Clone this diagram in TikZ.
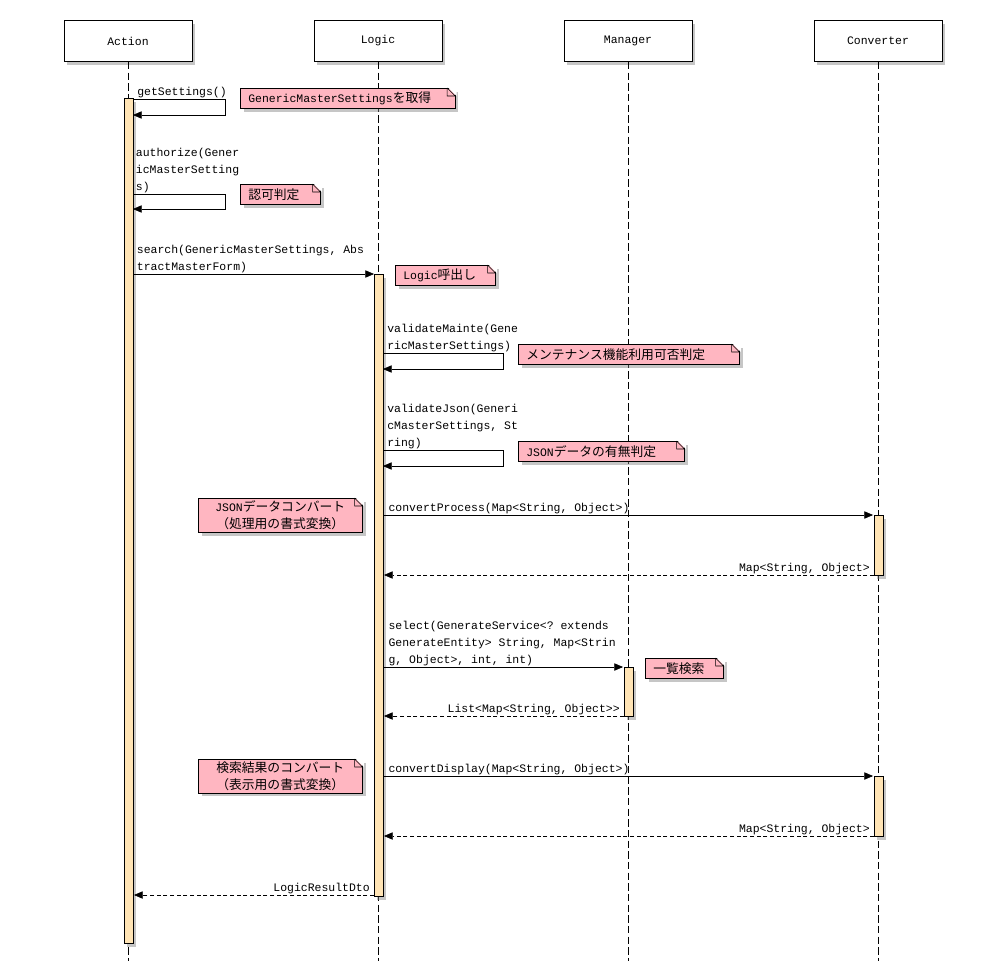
\documentclass[tikz,border=0pt]{standalone}
\usepackage{fontspec}
\setmonofont{Liberation Mono}
\newfontfamily\jpfont{Noto Sans CJK JP}
\usetikzlibrary{positioning,arrows.meta,shadows}

\definecolor{barfill}{HTML}{FFE4B5}
\definecolor{memofill}{HTML}{FFB6C1}

\newcommand{\msgfont}{\ttfamily\fontsize{8.6}{12.4}\selectfont}
\newcommand{\ja}[1]{{\jpfont\fontsize{9.6}{12.4}\selectfont #1}}
% folded corner of a note
\newcommand{\dogear}[1]{%
  \fill[white] ([xshift=-6pt,yshift=1pt]#1.north east) -- ([xshift=1pt,yshift=1pt]#1.north east)
    -- ([xshift=1pt,yshift=-6pt]#1.north east) -- cycle;
  \draw ([xshift=-6pt]#1.north east) -- ([yshift=-6pt]#1.north east)
    ([xshift=-6pt]#1.north east) |- ([yshift=-6pt]#1.north east);
}

\tikzset{
  shade/.style={drop shadow={shadow xshift=2.5pt,shadow yshift=-2.5pt,opacity=.45}},
  actor/.style={draw,fill=white,minimum width=96pt,minimum height=31pt,font=\msgfont,shade},
  life/.style={draw,dash pattern=on 5.5pt off 2.5pt},
  bar/.style={draw,fill=barfill,minimum width=6.75pt,inner sep=0pt,anchor=north,shade},
  msg/.style={draw,->},
  ret/.style={draw,->,dash pattern=on 3pt off 2pt},
  lbl/.style={font=\msgfont,inner sep=1pt,align=left},
  memo/.style={draw,fill=memofill,font=\msgfont,inner xsep=6pt,inner ysep=2pt,
    minimum height=15pt,anchor=north west,shade}
}

\begin{document}
\begin{tikzpicture}[x=0.75pt,y=-0.75pt,>={Triangle[length=6.5pt,width=5.5pt]}]
  \useasboundingbox (0,0) rectangle (1006,961);

  % participants
  \node[actor] (action) at (128,41) {Action};
  \node[actor] (logic) at (378,41) {Logic};
  \node[actor] (manager) at (628,41) {Manager};
  \node[actor] (converter) at (878,41) {Converter};

  % lifelines
  \coordinate (actionEnd) at (128,961);
  \coordinate (logicEnd) at (378,961);
  \coordinate (managerEnd) at (628,961);
  \coordinate (converterEnd) at (878,961);
  \draw[life] (action.south) -- (actionEnd);
  \draw[life] (logic.south) -- (logicEnd);
  \draw[life] (manager.south) -- (managerEnd);
  \draw[life] (converter.south) -- (converterEnd);

  % activations
  \node[bar,minimum height=633.75pt] (actionBar) at (128.5,98) {};
  \node[bar,minimum height=466.5pt] (logicBar) at (378.5,274) {};
  \node[bar,minimum height=45pt] (convBarA) at (878.5,515) {};
  \node[bar,minimum height=36.75pt] (managerBar) at (628.5,667) {};
  \node[bar,minimum height=45pt] (convBarB) at (878.5,776) {};

  % getSettings
  \coordinate (getA) at (133,99);
  \coordinate (getB) at (133,115);
  \node[lbl,anchor=south west,xshift=2pt] (getLbl) at (getA) {getSettings()};
  \draw[msg] (getA) -- ++(92,0) |- (getB);

  % authorize
  \coordinate (authA) at (133,194);
  \coordinate (authB) at (133,209);
  \node[lbl,anchor=south west,xshift=1pt] (authLbl) at (authA)
    {authorize(Gener\\icMasterSetting\\s)};
  \draw[msg] (authA) -- ++(92,0) |- (authB);

  % search
  \coordinate (searchA) at (134,274);
  \coordinate (searchB) at (374,274);
  \node[lbl,anchor=south west,xshift=1pt] (searchLbl) at (searchA)
    {search(GenericMasterSettings, Abs\\tractMasterForm)};
  \draw[msg] (searchA) -- (searchB);

  % validateMainte
  \coordinate (mainteA) at (383,353);
  \coordinate (mainteB) at (383,369);
  \node[lbl,anchor=south west,xshift=2pt] (mainteLbl) at (mainteA)
    {validateMainte(Gene\\ricMasterSettings)};
  \draw[msg] (mainteA) -- ++(120,0) |- (mainteB);

  % validateJson
  \coordinate (jsonA) at (383,450);
  \coordinate (jsonB) at (383,466);
  \node[lbl,anchor=south west,xshift=2pt] (jsonLbl) at (jsonA)
    {validateJson(Generi\\cMasterSettings, St\\ring)};
  \draw[msg] (jsonA) -- ++(120,0) |- (jsonB);

  % convertProcess
  \coordinate (procA) at (383,515);
  \coordinate (procB) at (873,515);
  \coordinate (procC) at (874,575);
  \coordinate (procD) at (384,575);
  \node[lbl,anchor=south west,xshift=3pt] (procLbl) at (procA)
    {convertProcess(Map<String, Object>)};
  \draw[msg] (procA) -- (procB);
  \node[lbl,anchor=south east,xshift=-2pt] (procRet) at (procC) {Map<String, Object>};
  \draw[ret] (procC) -- (procD);

  % select
  \coordinate (selA) at (383,667);
  \coordinate (selB) at (623,667);
  \coordinate (selC) at (624,716);
  \coordinate (selD) at (384,716);
  \node[lbl,anchor=south west,xshift=3pt] (selLbl) at (selA)
    {select(GenerateService<? extends\\GenerateEntity> String, Map<Strin\\g, Object>, int, int)};
  \draw[msg] (selA) -- (selB);
  \node[lbl,anchor=south east,xshift=-2pt] (selRet) at (selC) {List<Map<String, Object>>};
  \draw[ret] (selC) -- (selD);

  % convertDisplay
  \coordinate (dispA) at (383,776);
  \coordinate (dispB) at (873,776);
  \coordinate (dispC) at (874,836);
  \coordinate (dispD) at (384,836);
  \node[lbl,anchor=south west,xshift=3pt] (dispLbl) at (dispA)
    {convertDisplay(Map<String, Object>)};
  \draw[msg] (dispA) -- (dispB);
  \node[lbl,anchor=south east,xshift=-2pt] (dispRet) at (dispC) {Map<String, Object>};
  \draw[ret] (dispC) -- (dispD);

  % result
  \coordinate (resA) at (374,895);
  \coordinate (resB) at (134,895);
  \node[lbl,anchor=south east,xshift=-2pt] (resLbl) at (resA) {LogicResultDto};
  \draw[ret] (resA) -- (resB);

  % notes
  \node[memo,text width=149pt] (getNote) at (240,88) {GenericMasterSettings\ja{を取得}};
  \dogear{getNote}
  \node[memo,text width=48pt] (authNote) at (240,184) {\ja{認可判定}};
  \dogear{authNote}
  \node[memo,text width=63pt] (callNote) at (395,265) {Logic\ja{呼出し}};
  \dogear{callNote}
  \node[memo,text width=153.75pt] (mainteNote) at (518,344) {\ja{メンテナンス機能利用可否判定}};
  \dogear{mainteNote}
  \node[memo,text width=112.5pt] (jsonNote) at (518,441) {JSON\ja{データの有無判定}};
  \dogear{jsonNote}
  \node[memo,text width=111pt,align=center] (procNote) at (198,498)
    {JSON\ja{データコンバート}\\\ja{（処理用の書式変換）}};
  \dogear{procNote}
  \node[memo,text width=46.5pt] (selNote) at (645,658) {\ja{一覧検索}};
  \dogear{selNote}
  \node[memo,text width=111pt,align=center] (dispNote) at (198,759)
    {\ja{検索結果のコンバート}\\\ja{（表示用の書式変換）}};
  \dogear{dispNote}
\end{tikzpicture}
\end{document}
